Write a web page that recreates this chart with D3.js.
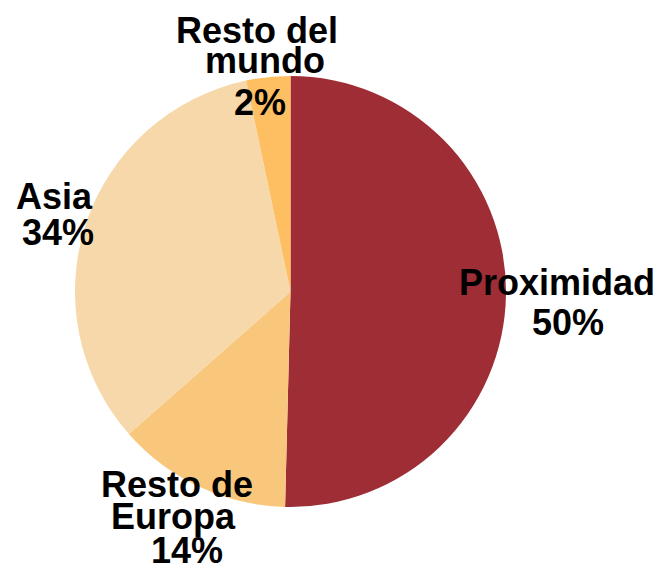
<!DOCTYPE html>
<html>

<head>
    <meta charset="utf-8">
    <script src="https://d3js.org/d3.v7.min.js"></script>
    <style type="text/css">
        body {
            margin: 0;
            background: white;
        }

        .label {
            font-family: "Liberation Sans", Arial, sans-serif;
            font-size: 36px;
            font-weight: bold;
            fill: black;
            text-anchor: middle;
        }
    </style>
</head>

<body>
    <div id="my_dataviz"></div>

    <script>
        // data (slice sizes as drawn, labels as printed)
        const categories = ["Proximidad", "Resto de Europa", "Asia", "Resto del mundo"];
        const shares = [50.4, 13.1, 33.2, 3.3];
        const pctLabels = ["50%", "14%", "34%", "2%"];
        const colors = ["#9e2d36", "#f9c77b", "#f7d8aa", "#fdbf62"];

        const width = 664,
            height = 571,
            cx = 290.5,
            cy = 291.5,
            radius = 215.5;

        // label layout: lines of each label with their position
        const labelLines = [
            [["Proximidad", 557, 295], ["50%", 568, 335]],
            [["Resto de", 177, 497], ["Europa", 173, 529], ["14%", 187, 563]],
            [["Asia", 54, 209], ["34%", 58, 245]],
            [["Resto del", 257, 43], ["mundo", 265, 73], ["2%", 260, 115]]
        ];

        const data = categories.map((c, i) => ({ name: c, value: shares[i], pct: pctLabels[i], i: i }));

        const svg = d3.select("#my_dataviz")
            .append("svg")
            .attr("width", width)
            .attr("height", height);

        const color = d3.scaleOrdinal()
            .domain(categories)
            .range(colors);

        const pie = d3.pie()
            .sort(null)
            .value(d => d.value);

        const arc = d3.arc()
            .innerRadius(0)
            .outerRadius(radius);

        // slices
        svg.append("g")
            .attr("transform", `translate(${cx},${cy})`)
            .selectAll("path")
            .data(pie(data))
            .join("path")
            .attr("d", arc)
            .attr("fill", d => color(d.data.name));

        // labels
        const labels = svg.append("g");
        data.forEach(function (d) {
            labelLines[d.i].forEach(function (l) {
                labels.append("text")
                    .attr("class", "label")
                    .attr("x", l[1])
                    .attr("y", l[2])
                    .text(l[0]);
            });
        });
    </script>
</body>

</html>
